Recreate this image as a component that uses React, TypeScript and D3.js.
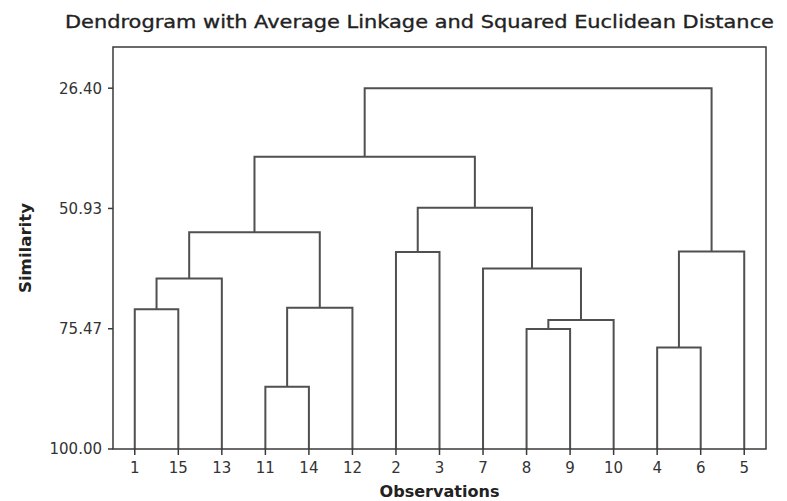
import React from "react";
import * as d3 from "d3";

const observations = ["1", "15", "13", "11", "14", "12", "2", "3", "7", "8", "9", "10", "4", "6", "5"];
// Amalgamation steps (Minitab style: new cluster keeps the lower observation id)
const joinA = [11, 4, 8, 8, 1, 11, 1, 7, 2, 4, 1, 2, 1, 1];
const joinB = [14, 6, 9, 10, 15, 12, 13, 8, 3, 5, 11, 7, 2, 4];
const similarity = [87.3, 79.3, 75.5, 73.7, 71.5, 71.2, 65.2, 63.2, 59.8, 59.7, 55.8, 50.8, 40.4, 26.4];
const yTicks = [26.4, 50.93, 75.47, 100.0];
const yTop = 18;

const W = 787;
const H = 501;
const left = 113;
const right = 766;
const top = 47;
const bottom = 449;

export default function App() {
  const x = d3.scaleBand<string>().domain(observations).range([left, right]);
  const y = d3.scaleLinear().domain([100, yTop]).range([bottom, top]);
  const cx = (o: string) => (x(o) as number) + x.bandwidth() / 2;

  // current position of each cluster id
  const pos = new Map<number, { x: number; s: number }>();
  observations.forEach((o) => pos.set(+o, { x: cx(o), s: 100 }));

  const paths: string[] = [];
  joinA.forEach((a, i) => {
    const b = joinB[i];
    const s = similarity[i];
    const pa = pos.get(a)!;
    const pb = pos.get(b)!;
    const p = d3.path();
    p.moveTo(pa.x, y(pa.s));
    p.lineTo(pa.x, y(s));
    p.lineTo(pb.x, y(s));
    p.lineTo(pb.x, y(pb.s));
    paths.push(p.toString());
    pos.set(Math.min(a, b), { x: (pa.x + pb.x) / 2, s });
  });

  const lineColor = "#505050";
  const textColor = "#222";
  const font = "'DejaVu Sans', Verdana, sans-serif";

  return (
    <svg width={W} height={H} style={{ position: "absolute", left: 0, top: 0, background: "#fff" }}>
      <text
        x={419.5}
        y={28}
        textAnchor="middle"
        fontFamily={font}
        fontSize={18}
        fill={textColor}
        stroke={textColor}
        strokeWidth={0.35}
        textLength={709}
        lengthAdjust="spacingAndGlyphs"
      >
        Dendrogram with Average Linkage and Squared Euclidean Distance
      </text>

      {paths.map((d, i) => (
        <path key={i} d={d} fill="none" stroke={lineColor} strokeWidth={2} strokeLinejoin="miter" />
      ))}

      <rect x={left} y={top} width={right - left} height={bottom - top} fill="none" stroke="#3a3a3a" strokeWidth={1.5} />

      {yTicks.map((t) => (
        <g key={t}>
          <line x1={left - 5} x2={left} y1={y(t)} y2={y(t)} stroke="#3a3a3a" strokeWidth={1.5} />
          <text
            x={left - 11}
            y={y(t)}
            dy="0.36em"
            textAnchor="end"
            fontFamily={font}
            fontSize={15}
            fill="#333"
          >
            {t.toFixed(2)}
          </text>
        </g>
      ))}

      {observations.map((o) => (
        <g key={o}>
          <line x1={cx(o)} x2={cx(o)} y1={bottom} y2={bottom + 6} stroke="#3a3a3a" strokeWidth={1.5} />
          <text x={cx(o)} y={473} textAnchor="middle" fontFamily={font} fontSize={15} fill="#333">
            {o}
          </text>
        </g>
      ))}

      <text
        x={(left + right) / 2}
        y={497}
        textAnchor="middle"
        fontFamily={font}
        fontSize={16}
        fontWeight="bold"
        fill={textColor}
        textLength={120}
        lengthAdjust="spacingAndGlyphs"
      >
        Observations
      </text>

      <text
        transform={`translate(31, ${(top + bottom) / 2}) rotate(-90)`}
        textAnchor="middle"
        fontFamily={font}
        fontSize={16}
        fontWeight="bold"
        fill={textColor}
        textLength={90}
        lengthAdjust="spacingAndGlyphs"
      >
        Similarity
      </text>
    </svg>
  );
}
